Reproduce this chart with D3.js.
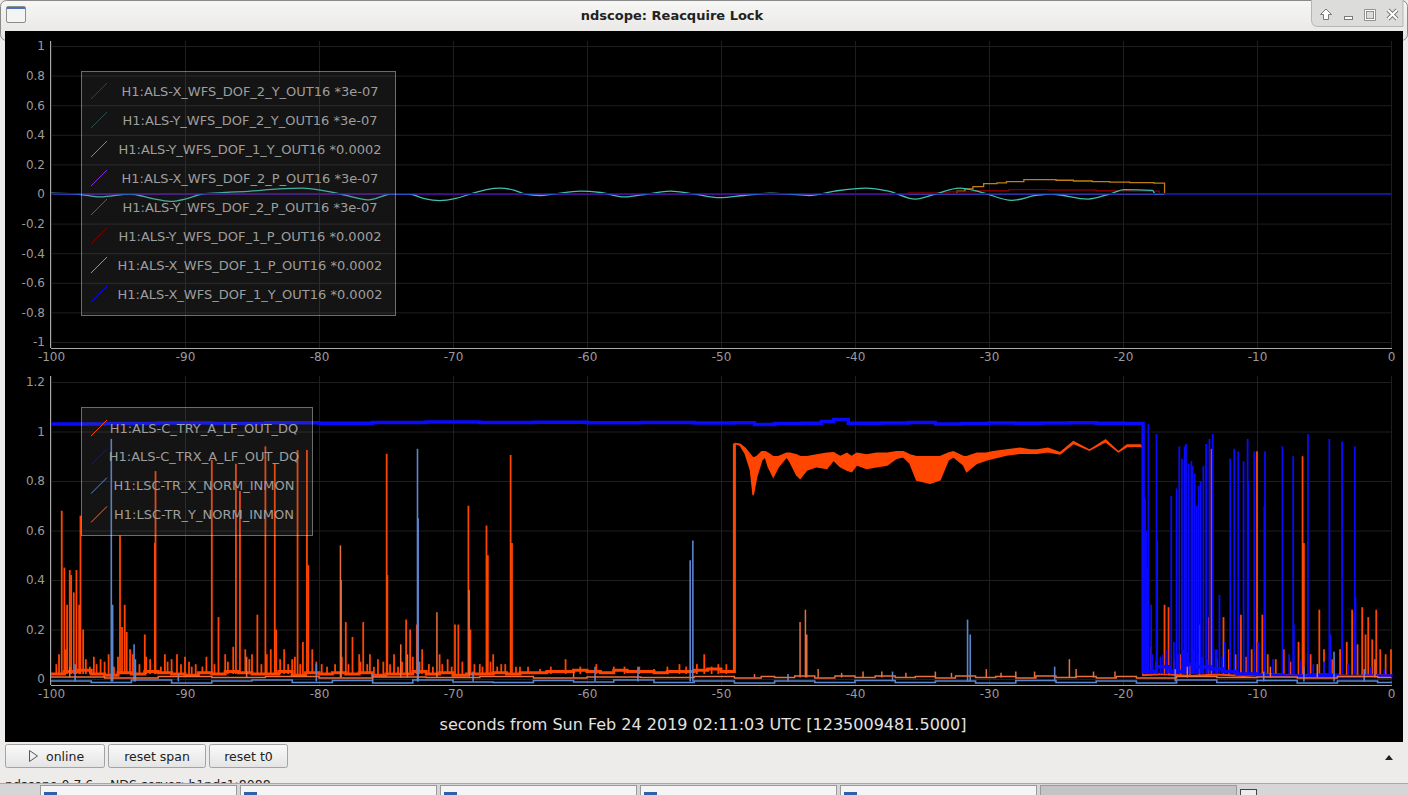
<!DOCTYPE html>
<html>
<head>
<meta charset="utf-8">
<script src="https://cdn.jsdelivr.net/npm/d3@7"></script>
<style>
	html, body { margin: 0; padding: 0; background: #edeceb; overflow: hidden; }
	svg { display: block; font-family: "DejaVu Sans", sans-serif; }
</style>
</head>
<body>
<div id="scope"></div>
<script>
// ---------- data ----------
const xTicks = [-100, -90, -80, -70, -60, -50, -40, -30, -20, -10, 0];
const topYTicks = [-1, -0.8, -0.6, -0.4, -0.2, 0, 0.2, 0.4, 0.6, 0.8, 1];
const botYTicks = [0, 0.2, 0.4, 0.6, 0.8, 1, 1.2];

const topNames = [
	'H1:ALS-X_WFS_DOF_2_Y_OUT16 *3e-07',
	'H1:ALS-Y_WFS_DOF_2_Y_OUT16 *3e-07',
	'H1:ALS-Y_WFS_DOF_1_Y_OUT16 *0.0002',
	'H1:ALS-X_WFS_DOF_2_P_OUT16 *3e-07',
	'H1:ALS-Y_WFS_DOF_2_P_OUT16 *3e-07',
	'H1:ALS-Y_WFS_DOF_1_P_OUT16 *0.0002',
	'H1:ALS-X_WFS_DOF_1_P_OUT16 *0.0002',
	'H1:ALS-X_WFS_DOF_1_Y_OUT16 *0.0002'
];
const topColors = ['#d00000', '#2f4f4f', '#c08010', '#8a2be2', '#556b2f', '#800000', '#3fbfb0', '#0a0aff'];

const botNames = ['H1:ALS-C_TRY_A_LF_OUT_DQ', 'H1:ALS-C_TRX_A_LF_OUT_DQ', 'H1:LSC-TR_X_NORM_INMON', 'H1:LSC-TR_Y_NORM_INMON'];
const botColors = ['#ff4500', '#0a0aff', '#5b86cf', '#e8703f'];

// top plot traces [t, value]
const topZero = [[-100, 0], [-16.9, 0]];
const alsYDof1Y = [[-100, 0], [-33, 0], [-32.4, 0.02], [-31.8, 0.035], [-31.2, 0.05], [-30.4, 0.07], [-29.4, 0.075],
	[-28.7, 0.083], [-27.4, 0.097], [-25.0, 0.093], [-23.7, 0.088], [-22.3, 0.084], [-21.0, 0.08], [-19.5, 0.077],
	[-17.7, 0.073], [-16.9, 0]];
const alsYDof1P = [[-100, 0], [-37, 0], [-36, 0.008], [-33, 0.015], [-31, 0.022], [-28.5, 0.03], [-25.5, 0.027],
	[-22, 0.022], [-19.5, 0.02], [-17.3, 0], [-16.9, 0]];
const alsXDof1P = [[-100, 0.005], [-98.1, 0], [-96.3, -0.02], [-94.1, 0], [-92.5, -0.03], [-91.1, -0.05], [-89.8, -0.03],
	[-88.7, 0], [-87, 0.01], [-85.1, 0.02], [-83, 0.035], [-81.2, 0.04], [-79.8, 0.025], [-78.4, 0], [-77.3, -0.025],
	[-76.4, -0.04], [-75.4, -0.02], [-74.7, 0], [-73.3, 0], [-72.2, -0.03], [-71, -0.045], [-69.8, -0.03], [-68.7, 0],
	[-67.5, 0.03], [-66.5, 0.04], [-65.4, 0.025], [-64.6, 0], [-63.5, -0.01], [-62.5, 0], [-60.5, 0.02], [-59, 0.01],
	[-57.2, -0.02], [-55.5, 0], [-53.8, 0.02], [-52, 0], [-50.1, -0.025], [-48.3, -0.01], [-46.3, 0.005], [-45, 0],
	[-43.4, -0.01], [-41.5, 0.02], [-39.2, 0.04], [-37.5, 0.02], [-35.5, -0.034], [-34, 0], [-32.2, 0.04], [-30.5, 0.01],
	[-28.3, -0.043], [-26.5, -0.01], [-25.4, 0], [-22.6, -0.034], [-21, 0], [-19.9, 0.03], [-17.8, 0.025], [-17.6, 0], [-16.9, 0]];
const alsXDof1Y = [[-100, 0.002], [0, 0.002]];

// bottom plot: ALS-C_TRY
const tryPreBase = [[-100, 0.02], [-99, 0.03], [-98, 0.035], [-97, 0.02], [-96, 0.015], [-95, 0.025], [-94, 0.02],
	[-93, 0.03], [-92, 0.025], [-91, 0.02], [-90, 0.015], [-89, 0.025], [-88, 0.02], [-87, 0.03], [-86, 0.025], [-85, 0.02],
	[-84, 0.02], [-83, 0.03], [-82, 0.015], [-81, 0.025], [-80, 0.02], [-79, 0.025], [-78, 0.02], [-77, 0.025], [-76, 0.015],
	[-75, 0.02], [-74, 0.02], [-73, 0.03], [-72, 0.02], [-71, 0.025], [-70, 0.015], [-69, 0.02], [-68, 0.02], [-67, 0.025],
	[-66, 0.02], [-65, 0.025], [-64, 0.025], [-63, 0.03], [-62, 0.03], [-61, 0.035], [-60, 0.03], [-59, 0.025], [-58, 0.035],
	[-57, 0.03], [-56, 0.03], [-55, 0.025], [-54, 0.03], [-53, 0.03], [-52, 0.035], [-51, 0.04], [-50, 0.03], [-49.0, 0.035]];
const tryPreSpikes = [[-99.2, 0.68], [-99.0, 0.45], [-98.8, 0.30], [-98.6, 0.44], [-98.5, 0.42], [-98.3, 0.35], [-98.1, 0.44],
	[-97.9, 0.30], [-97.8, 0.66], [-97.6, 0.2], [-96.8, 0.09], [-96.3, 0.08], [-95.7, 0.1], [-94.85, 0.58], [-94.7, 0.21],
	[-94.5, 0.30], [-94.35, 0.19], [-93.9, 0.1], [-93.0, 0.18], [-92.6, 0.08], [-92.2, 0.84], [-92.25, 0.55], [-91.5, 0.1],
	[-91.0, 0.08], [-90.6, 0.10], [-90.0, 0.09], [-89.2, 0.06], [-88.0, 0.885], [-87.5, 0.25], [-87.0, 0.1], [-86.4, 0.13],
	[-86.2, 0.87], [-85.9, 0.76], [-85.5, 0.12], [-85.0, 0.1], [-84.6, 0.26], [-84.0, 0.94], [-83.6, 0.12], [-83.3, 0.87],
	[-83.2, 0.2], [-82.6, 0.12], [-82.0, 0.08], [-81.6, 0.925], [-81.2, 0.15], [-80.9, 0.925], [-80.8, 0.46], [-80.5, 0.12],
	[-79.8, 0.06], [-78.0, 0.23], [-77.5, 0.17], [-77.0, 0.1], [-76.7, 0.23], [-76.2, 0.10], [-75.6, 0.08], [-74.95, 0.91],
	[-74.9, 0.42], [-74.4, 0.1], [-73.5, 0.24], [-73.2, 0.20], [-72.7, 0.22], [-72.3, 0.12], [-71.8, 0.06], [-71.0, 0.1],
	[-70.4, 0.08], [-69.85, 0.22], [-69.6, 0.22], [-68.85, 0.70], [-68.7, 0.2], [-68.0, 0.06], [-67.5, 0.62], [-67.4, 0.50],
	[-67.0, 0.1], [-66.4, 0.06], [-65.7, 0.905], [-65.6, 0.55], [-65.0, 0.05], [-63.5, 0.04], [-61.6, 0.08], [-58.0, 0.05],
	[-55.0, 0.04], [-51.25, 0.10], [-50.2, 0.06],
	// low fuzz near the floor
	[-99.6, 0.06], [-99.4, 0.1], [-98.9, 0.12], [-97.4, 0.08], [-97.1, 0.05], [-96.6, 0.06], [-96.0, 0.07], [-95.3, 0.05],
	[-95.0, 0.09], [-94.1, 0.12], [-93.4, 0.06], [-92.9, 0.09], [-91.8, 0.05], [-91.3, 0.07], [-90.3, 0.06], [-89.7, 0.07],
	[-89.5, 0.05], [-88.7, 0.05], [-88.4, 0.09], [-87.8, 0.06], [-86.8, 0.07], [-85.2, 0.08], [-84.3, 0.06], [-83.9, 0.1],
	[-82.9, 0.08], [-82.3, 0.06], [-81.8, 0.09], [-81.4, 0.06], [-80.2, 0.07], [-79.4, 0.05], [-78.8, 0.06], [-78.3, 0.09],
	[-77.8, 0.06], [-76.9, 0.07], [-76.4, 0.06], [-75.9, 0.05], [-75.2, 0.07], [-74.7, 0.06], [-74.1, 0.05], [-73.8, 0.07],
	[-73.0, 0.09], [-72.5, 0.07], [-71.5, 0.05], [-70.8, 0.06], [-70.1, 0.05], [-69.3, 0.07], [-68.4, 0.06], [-67.8, 0.05],
	[-67.2, 0.07], [-66.7, 0.05], [-66.1, 0.06], [-65.3, 0.05], [-64.4, 0.05], [-62.7, 0.05], [-60.5, 0.05], [-59.3, 0.06],
	[-57.2, 0.05], [-56.1, 0.05], [-54.0, 0.05], [-53.1, 0.06], [-52.6, 0.05], [-51.8, 0.06], [-50.7, 0.05], [-49.6, 0.06]];
const tryLockT = [-49.0, -48.58, -48.2, -47.8, -47.6, -47.34, -46.96, -46.7, -46.47, -46.1, -45.72, -45.1, -44.85, -44.35,
	-44.1, -43.6, -42.86, -42.1, -41.6, -41.1, -40.6, -40.25, -39.87, -39.13, -38.4, -37.6, -36.9, -36.4, -35.9, -35.4, -34.4,
	-33.66, -33.04, -32.66, -31.9, -31.67, -30.9, -30.2, -29.7, -28.7, -27.7, -26.9, -26.4, -25.6, -24.7, -23.7, -22.5, -21.3,
	-20.35, -19.7, -18.7, -18.5];
const tryLockHi = [0.952, 0.949, 0.932, 0.905, 0.892, 0.898, 0.918, 0.918, 0.912, 0.898, 0.898, 0.912, 0.912, 0.905, 0.898,
	0.898, 0.905, 0.912, 0.914, 0.898, 0.912, 0.898, 0.912, 0.905, 0.912, 0.912, 0.918, 0.918, 0.905, 0.898, 0.898, 0.898,
	0.912, 0.918, 0.898, 0.898, 0.912, 0.912, 0.918, 0.925, 0.932, 0.925, 0.925, 0.932, 0.914, 0.959, 0.925, 0.966, 0.918,
	0.945, 0.945, 0.939];
const tryLockLo = [0.952, 0.945, 0.912, 0.844, 0.743, 0.817, 0.885, 0.898, 0.858, 0.817, 0.858, 0.898, 0.878, 0.824, 0.811,
	0.844, 0.858, 0.851, 0.885, 0.858, 0.844, 0.838, 0.865, 0.851, 0.858, 0.865, 0.892, 0.898, 0.872, 0.804, 0.791, 0.804,
	0.885, 0.898, 0.865, 0.838, 0.872, 0.885, 0.892, 0.905, 0.912, 0.912, 0.912, 0.918, 0.909, 0.952, 0.925, 0.959, 0.918,
	0.939, 0.941, 0.932];
const tryPostBase = [[-18.5, 0.015], [-17, 0.02], [-15, 0.012], [-13, 0.018], [-11, 0.012], [-9, 0.02], [-7, 0.014],
	[-5, 0.018], [-3, 0.012], [-1, 0.016], [0, 0.014]];
const tryPostSpikes = [[-17.9, 0.13], [-17.5, 0.07], [-16.9, 0.30], [-16.6, 0.29], [-16.2, 0.08], [-15.7, 0.1], [-15.0, 0.06],
	[-14.3, 0.22], [-13.6, 0.25], [-13.4, 0.93], [-13.0, 0.08], [-12.5, 0.25], [-12.1, 0.12], [-11.6, 0.1], [-11.2, 0.26],
	[-10.8, 0.09], [-10.4, 0.12], [-10.0, 0.92], [-9.6, 0.26], [-9.2, 0.1], [-8.6, 0.08], [-8.0, 0.12], [-7.5, 0.07],
	[-6.9, 0.15], [-6.6, 0.90], [-6.5, 0.55], [-6.0, 0.1], [-5.35, 0.28], [-5.0, 0.12], [-4.4, 0.08], [-3.8, 0.12],
	[-3.3, 0.15], [-2.9, 0.28], [-2.5, 0.14], [-2.15, 0.29], [-1.9, 0.18], [-1.7, 0.25], [-1.4, 0.16], [-1.1, 0.28],
	[-0.8, 0.12], [-0.4, 0.1], [0, 0.12]];

// ALS-C_TRX
const trxLock = [[-100, 1.030], [-96, 1.032], [-92, 1.034], [-88, 1.032], [-84, 1.035], [-80, 1.033], [-76, 1.036],
	[-72, 1.038], [-68, 1.036], [-64, 1.037], [-60, 1.035], [-56, 1.036], [-52, 1.034], [-49, 1.035], [-47.5, 1.028],
	[-46, 1.032], [-44, 1.033], [-42.5, 1.040], [-41.6, 1.048], [-40.5, 1.033], [-38, 1.034], [-36, 1.036], [-34, 1.030],
	[-32, 1.032], [-30, 1.034], [-28, 1.033], [-26, 1.034], [-24, 1.035], [-22, 1.033], [-20, 1.032], [-18.5, 1.030]];
const trxPostBase = [[-18.5, 0.03], [-17.5, 0.05], [-16.5, 0.03], [-15.5, 0.06], [-14.5, 0.05], [-13.5, 0.04], [-12.5, 0.03],
	[-11.5, 0.02], [-10, 0.015], [-8, 0.012], [-6, 0.015], [-4, 0.01], [-2, 0.012], [0, 0.01]];
const trxPostSpikes = [[-18.45, 0.50], [-18.35, 0.73], [-18.25, 0.60], [-18.15, 0.45], [-18.1, 1.03], [-17.9, 0.3],
	[-17.8, 0.1], [-17.5, 0.99], [-17.45, 0.56], [-17.2, 0.09], [-17.0, 0.1], [-16.8, 0.08], [-16.7, 0.12], [-16.4, 0.74],
	[-16.2, 0.15], [-16.0, 0.77], [-15.9, 0.1], [-15.8, 0.94], [-15.6, 0.89], [-15.5, 0.12], [-15.4, 0.94], [-15.3, 0.95],
	[-15.2, 0.11], [-15.1, 0.87], [-14.9, 0.88], [-14.8, 0.86], [-14.7, 0.12], [-14.65, 0.83], [-14.5, 0.70], [-14.4, 0.1],
	[-14.35, 0.78], [-14.2, 0.80], [-14.1, 0.09], [-14.0, 0.86], [-13.8, 0.95], [-13.7, 0.08], [-13.55, 0.97], [-13.3, 0.99],
	[-13.1, 0.12], [-13.0, 0.12], [-12.8, 0.34], [-12.6, 0.09], [-12.4, 0.15], [-12.0, 0.89], [-11.7, 0.93], [-11.4, 0.92],
	[-11.0, 0.88], [-10.7, 0.97], [-10.65, 0.80], [-10.2, 0.92], [-9.9, 0.15], [-9.45, 0.70], [-9.4, 0.92], [-8.8, 0.08],
	[-8.1, 0.94], [-7.6, 0.1], [-7.3, 0.90], [-7.25, 0.22], [-6.8, 0.08], [-6.2, 0.99], [-5.8, 0.06], [-5.0, 0.07],
	[-4.6, 0.97], [-4.5, 0.18], [-3.65, 0.96], [-3.2, 0.06], [-2.7, 0.94], [-2.65, 0.33], [-1.5, 0.05], [-0.5, 0.04]];

// LSC-TR_X_NORM
const trXBase = [[-100, -0.008], [-97, -0.014], [-94, -0.004], [-91, -0.016], [-88, -0.008], [-85, -0.004], [-82, -0.014],
	[-79, -0.006], [-76, -0.016], [-73, -0.004], [-70, -0.012], [-67, -0.014], [-64, -0.006], [-61, -0.012], [-58, -0.004],
	[-55, -0.014], [-52, -0.008], [-49, -0.016], [-46, -0.008], [-43, -0.014], [-40, -0.006], [-37, -0.014], [-34, -0.008],
	[-31, -0.016], [-28, -0.006], [-25, -0.014], [-22, -0.008], [-19, -0.016], [-16, -0.004], [-13, -0.014], [-10, -0.006],
	[-7, -0.016], [-4, -0.008], [-1, -0.014], [0, -0.01]];
const trXSpikes = [[-98.2, 0.06], [-95.5, 0.97], [-95.4, 0.3], [-93.8, 0.14], [-93.7, 0.08], [-90.5, 0.02], [-80.2, 0.06],
	[-76.0, 0.02], [-72.65, 0.93], [-72.6, 0.65], [-68.5, 0.03], [-59.4, 0.05], [-56.2, 0.05], [-52.3, 0.48], [-52.1, 0.56],
	[-45.0, 0.02], [-37.2, 0.03], [-31.6, 0.24], [-31.4, 0.18], [-25.1, 0.05], [-16.1, 0.04], [-9.5, 0.03], [-6.5, 0.05],
	[-4.25, 0.11], [-2.0, 0.04]];

// LSC-TR_Y_NORM
const trYBase = [[-100, 0.008], [-96, 0.004], [-92, 0.01], [-88, 0.006], [-84, 0.01], [-80, 0.004], [-76, 0.008],
	[-72, 0.006], [-68, 0.01], [-64, 0.004], [-60, 0.008], [-56, 0.006], [-52, 0.01], [-49, 0.004], [-47, 0.01], [-46, 0.006],
	[-44.5, 0.012], [-43, 0.004], [-41.5, 0.012], [-40, 0.006], [-38.5, 0.012], [-37, 0.006], [-35.5, 0.01], [-34, 0.004],
	[-32.5, 0.012], [-31, 0.006], [-29.5, 0.01], [-28, 0.004], [-26.5, 0.012], [-25, 0.006], [-23.5, 0.01], [-22, 0.004],
	[-20.5, 0.01], [-19, 0.004], [-16, 0.01], [-13, 0.006], [-10, 0.008], [-7, 0.004], [-4, 0.01], [-1, 0.006], [0, 0.008]];
const trYSpikes = [[-98.6, 0.05], [-85.4, 0.09], [-78.4, 0.54], [-78.35, 0.4], [-73.9, 0.14], [-73.4, 0.1], [-71.2, 0.27],
	[-68.8, 0.36], [-61, 0.03], [-47.5, 0.02], [-44.1, 0.23], [-43.7, 0.28], [-43.6, 0.18], [-42.75, 0.04], [-41, 0.025],
	[-39.4, 0.03], [-38, 0.03], [-36.2, 0.025], [-34, 0.03], [-32.8, 0.025], [-30.2, 0.04], [-29.1, 0.025], [-28, 0.03],
	[-26.6, 0.03], [-24.0, 0.08], [-23.5, 0.04], [-22.2, 0.03], [-20.6, 0.03], [-15.2, 0.05], [-9.0, 0.05], [-5.5, 0.06],
	[-1.2, 0.08]];

const axisLabel = 'seconds from Sun Feb 24 2019 02:11:03 UTC [1235009481.5000]';

// ---------- drawing ----------
const W = 1408, H = 795;
const svg = d3.select('#scope').append('svg').attr('width', W).attr('height', H);

const defs = svg.append('defs');
const tg = defs.append('linearGradient').attr('id', 'titlebar').attr('x1', 0).attr('y1', 0).attr('x2', 0).attr('y2', 1);
tg.append('stop').attr('offset', 0).attr('stop-color', '#f6f6f5');
tg.append('stop').attr('offset', 1).attr('stop-color', '#e6e5e3');
const bg = defs.append('linearGradient').attr('id', 'btn').attr('x1', 0).attr('y1', 0).attr('x2', 0).attr('y2', 1);
bg.append('stop').attr('offset', 0).attr('stop-color', '#fafafa');
bg.append('stop').attr('offset', 1).attr('stop-color', '#e4e4e4');

// window frame + title bar
svg.append('rect').attr('width', W).attr('height', H).attr('fill', '#edeceb');
svg.append('rect').attr('x', 0.5).attr('y', 0.5).attr('width', W - 1).attr('height', 40).attr('rx', 6)
	.attr('fill', 'url(#titlebar)').attr('stroke', '#8a8a8a');
svg.append('rect').attr('x', 6.5).attr('y', 6.5).attr('width', 19).attr('height', 16).attr('rx', 1.5)
	.attr('fill', '#f4f4f4').attr('stroke', '#8c8c8c');
svg.append('rect').attr('x', 7).attr('y', 7).attr('width', 18).attr('height', 2).attr('fill', '#4a72b0');
svg.append('text').attr('x', 672).attr('y', 20).attr('text-anchor', 'middle')
	.attr('font-size', 13).attr('font-weight', 'bold').attr('fill', '#222').text('ndscope: Reacquire Lock');

const ctl = svg.append('g');
ctl.append('path').attr('d', 'M1311.5,0 V20 Q1311.5,26.5 1318,26.5 H1403 V0')
	.attr('fill', '#dcdcdb').attr('stroke', '#b5b5b5');
ctl.append('path').attr('d', 'M1326,9 L1331.5,14.5 H1328.5 V19.5 H1323.5 V14.5 H1320.5 Z')
	.attr('fill', '#fff').attr('stroke', '#7a7a7a');
ctl.append('rect').attr('x', 1344.5).attr('y', 16.5).attr('width', 8).attr('height', 3).attr('fill', '#fff').attr('stroke', '#7a7a7a');
ctl.append('rect').attr('x', 1365.5).attr('y', 10.5).attr('width', 9).attr('height', 9).attr('fill', 'none').attr('stroke', '#7a7a7a').attr('stroke-width', 2.5);
ctl.append('rect').attr('x', 1365.5).attr('y', 10.5).attr('width', 9).attr('height', 9).attr('fill', 'none').attr('stroke', '#fff').attr('stroke-width', 1);
ctl.append('path').attr('d', 'M1388,10 L1397,19 M1397,10 L1388,19').attr('stroke', '#7a7a7a').attr('stroke-width', 4);
ctl.append('path').attr('d', 'M1388,10 L1397,19 M1397,10 L1388,19').attr('stroke', '#fff').attr('stroke-width', 2);

// black scope area
svg.append('rect').attr('x', 5).attr('y', 31).attr('width', 1398).attr('height', 711).attr('fill', '#000');

const x = d3.scaleLinear().domain([-100, 0]).range([51, 1391]);
const yTop = d3.scaleLinear().domain([-1, 1]).range([342, 46]);
const yBot = d3.scaleLinear().domain([0, 1.2]).range([679, 382]);
const fmt = d => String(+d.toFixed(1));

function drawFrame(y, ticks, top, bottom) {
	const g = svg.append('g');
	// grid
	g.append('g').attr('transform', `translate(0,${bottom})`)
		.call(d3.axisBottom(x).tickValues(xTicks).tickSize(-(bottom - top)).tickFormat(''))
		.call(s => s.select('.domain').remove())
		.call(s => s.selectAll('line').attr('stroke', '#1e1e1e'));
	g.append('g').attr('transform', 'translate(51,0)')
		.call(d3.axisLeft(y).tickValues(ticks).tickSize(-1340).tickFormat(''))
		.call(s => s.select('.domain').remove())
		.call(s => s.selectAll('line').attr('stroke', '#1e1e1e'));
	// tick labels
	g.append('g').attr('transform', `translate(0,${bottom})`)
		.call(d3.axisBottom(x).tickValues(xTicks).tickSize(0).tickPadding(4).tickFormat(fmt))
		.call(s => s.select('.domain').remove())
		.call(s => s.selectAll('text').attr('fill', '#9b9b9b').attr('font-size', 12).attr('font-family', 'DejaVu Sans'));
	g.append('g').attr('transform', 'translate(51,0)')
		.call(d3.axisLeft(y).tickValues(ticks).tickSize(0).tickPadding(6).tickFormat(fmt))
		.call(s => s.select('.domain').remove())
		.call(s => s.selectAll('text').attr('fill', '#9b9b9b').attr('font-size', 12).attr('font-family', 'DejaVu Sans'));
	// axis lines
	g.append('line').attr('x1', 51).attr('x2', 1392).attr('y1', bottom + 0.5).attr('y2', bottom + 0.5).attr('stroke', '#a8a8a8');
	g.append('line').attr('x1', 50.5).attr('x2', 50.5).attr('y1', top).attr('y2', bottom).attr('stroke', '#a8a8a8');
	return g;
}

drawFrame(yTop, topYTicks, 41, 348);
drawFrame(yBot, botYTicks, 376, 685);

// ----- top plot traces -----
const lineTop = d3.line().x(d => x(d[0])).y(d => yTop(d[1])).curve(d3.curveStepAfter);
const lineTopSmooth = d3.line().x(d => x(d[0])).y(d => yTop(d[1])).curve(d3.curveMonotoneX);
const topData = [topZero, topZero, alsYDof1Y, topZero, topZero, alsYDof1P, alsXDof1P, alsXDof1Y];
const topG = svg.append('g');
topData.forEach((d, i) => {
	topG.append('path').datum(d).attr('d', i === 6 ? lineTopSmooth : lineTop)
		.attr('fill', 'none').attr('stroke', topColors[i]).attr('stroke-width', i === 7 ? 1.6 : 1.3);
});

// ----- bottom plot traces -----
const lineBot = d3.line().x(d => x(d[0])).y(d => yBot(d[1])).curve(d3.curveStepAfter);
const botG = svg.append('g');

function spikes(list, base, color, w) {
	botG.append('g').selectAll('line').data(list).join('line')
		.attr('x1', d => x(d[0])).attr('x2', d => x(d[0]))
		.attr('y1', yBot(base)).attr('y2', d => yBot(d[1]))
		.attr('stroke', color).attr('stroke-width', w);
}

// TRY
const tryLock = tryLockT.map((t, i) => ({t, hi: tryLockHi[i], lo: tryLockLo[i]}));
botG.append('path').datum(tryPreBase.concat([[tryLockT[0], tryLockHi[0]]]))
	.attr('d', d3.line().x(d => x(d[0])).y(d => yBot(d[1])).curve(d3.curveStepAfter))
	.attr('fill', 'none').attr('stroke', botColors[0]).attr('stroke-width', 3);
spikes(tryPreSpikes, 0.02, botColors[0], 1.8);
botG.append('path').datum(tryLock)
	.attr('d', d3.area().x(d => x(d.t)).y0(d => yBot(d.lo)).y1(d => yBot(d.hi)))
	.attr('fill', botColors[0]).attr('stroke', botColors[0]).attr('stroke-width', 1.5);
botG.append('path').datum([[tryLockT[tryLockT.length - 1], tryLockLo[tryLockLo.length - 1]]].concat(tryPostBase))
	.attr('d', d3.line().x(d => x(d[0])).y(d => yBot(d[1])))
	.attr('fill', 'none').attr('stroke', botColors[0]).attr('stroke-width', 2);
spikes(tryPostSpikes, 0.015, botColors[0], 1.8);

// TRX
botG.append('path').datum(trxLock.concat(trxPostBase)).attr('d', lineBot)
	.attr('fill', 'none').attr('stroke', botColors[1]).attr('stroke-width', 3.5);
spikes(trxPostSpikes, 0.02, botColors[1], 1.8);

// TR_X
botG.append('path').datum(trXBase).attr('d', lineBot)
	.attr('fill', 'none').attr('stroke', botColors[2]).attr('stroke-width', 1.6);
spikes(trXSpikes, -0.01, botColors[2], 1.6);

// TR_Y
botG.append('path').datum(trYBase).attr('d', lineBot)
	.attr('fill', 'none').attr('stroke', botColors[3]).attr('stroke-width', 1.4);
spikes(trYSpikes, 0.006, botColors[3], 1.5);

// ----- legends -----
function legend(names, colors, bx, by, bw, bh, rowY, cx) {
	const g = svg.append('g');
	g.append('rect').attr('x', bx + 0.5).attr('y', by + 0.5).attr('width', bw).attr('height', bh)
		.attr('fill', 'rgba(100,100,100,0.2)').attr('stroke', 'rgba(255,255,255,0.4)');
	names.forEach((n, i) => {
		const cy = rowY(i);
		g.append('line').attr('x1', 91).attr('y1', cy + 8).attr('x2', 107).attr('y2', cy - 8)
			.attr('stroke', colors[i]).attr('stroke-width', 1);
		g.append('text').attr('x', cx).attr('y', cy).attr('dy', '0.36em').attr('text-anchor', 'middle')
			.attr('font-size', 13).attr('fill', '#9e9e9e').text(n);
	});
}
legend(topNames, topColors, 81, 71, 314, 244, i => 91 + i * 29, 250);
legend(botNames, botColors, 81, 407, 231, 128, i => 428 + i * 28.8, 204);

svg.append('text').attr('x', 703).attr('y', 730).attr('text-anchor', 'middle')
	.attr('font-size', 16).attr('fill', '#e2e2e2').text(axisLabel);

// ----- bottom widgets -----
const buttons = [{x: 5, w: 100, label: 'online'}, {x: 108, w: 98, label: 'reset span'}, {x: 209, w: 79, label: 'reset t0'}];
buttons.forEach(b => {
	svg.append('rect').attr('x', b.x + 0.5).attr('y', 744.5).attr('width', b.w - 1).attr('height', 23).attr('rx', 2)
		.attr('fill', 'url(#btn)').attr('stroke', '#a3a3a3');
	if (b.label === 'online') {
		svg.append('path').attr('d', 'M29.5,750.5 L37.5,756 L29.5,761.5 Z').attr('fill', 'none').attr('stroke', '#555');
		svg.append('text').attr('x', 46).attr('y', 760.5).attr('font-size', 12.5).attr('fill', '#222').text('online');
	} else {
		svg.append('text').attr('x', b.x + b.w / 2).attr('y', 760.5).attr('text-anchor', 'middle')
			.attr('font-size', 12.5).attr('fill', '#222').text(b.label);
	}
});
svg.append('path').attr('d', 'M1385,760 L1393,760 L1389,755 Z').attr('fill', '#222');
svg.append('text').attr('x', 5).attr('y', 789).attr('font-size', 12.5).attr('fill', '#222').text('ndscope 0.7.6');
svg.append('text').attr('x', 110).attr('y', 789).attr('font-size', 12.5).attr('fill', '#222').text('NDS server: h1nds1:8088');

// taskbar
svg.append('rect').attr('x', 0).attr('y', 783).attr('width', W).attr('height', 12).attr('fill', '#d6d6d6');
svg.append('line').attr('x1', 0).attr('x2', W).attr('y1', 783.5).attr('y2', 783.5).attr('stroke', '#a8a8a8');
d3.range(6).forEach(i => {
	const bx = 40 + i * 200;
	svg.append('rect').attr('x', bx + 0.5).attr('y', 785.5).attr('width', 196).attr('height', 12)
		.attr('fill', i === 5 ? '#c4c4c4' : '#f5f5f5').attr('stroke', '#9a9a9a');
	if (i < 5) svg.append('rect').attr('x', bx + 4).attr('y', 792).attr('width', 13).attr('height', 4).attr('fill', '#2f5fa8');
});
svg.append('rect').attr('x', 1240.5).attr('y', 789.5).attr('width', 16).attr('height', 8).attr('fill', '#eee').attr('stroke', '#444');
</script>
</body>
</html>
